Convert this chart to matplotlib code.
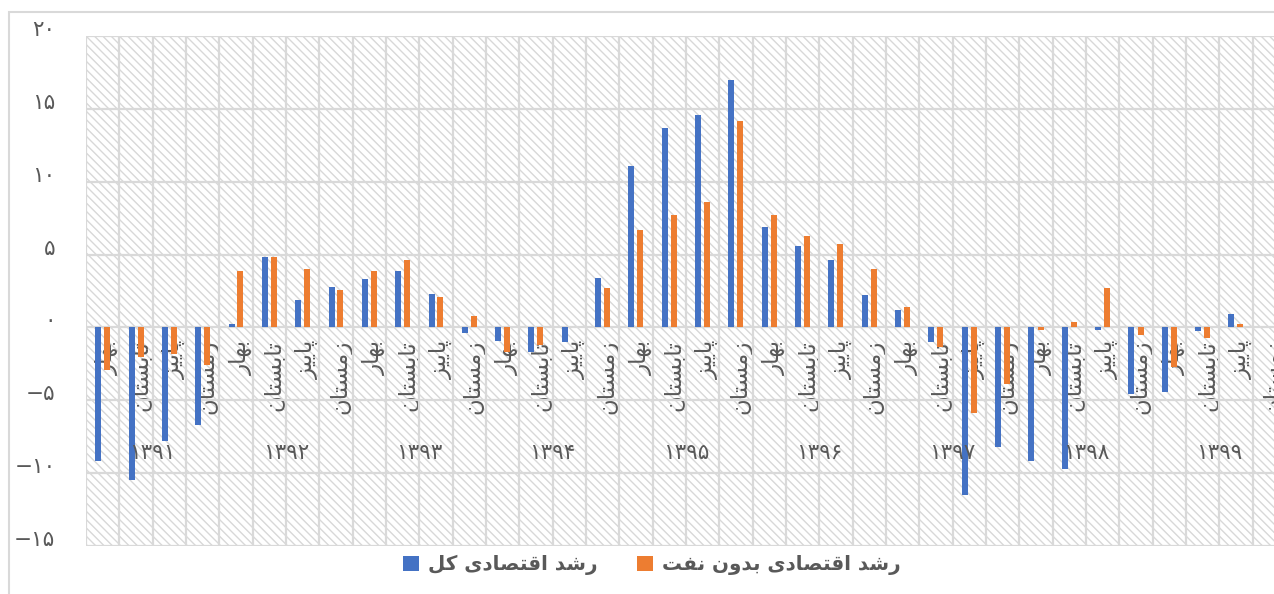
import numpy as np
import matplotlib
matplotlib.use("Agg")
import matplotlib.pyplot as plt
from matplotlib.patches import Rectangle
import matplotlib.transforms as mtransforms

# quarterly growth, 1391-1399 (last quarter of 1399 not available)
years = ['1391', '1392', '1393', '1394', '1395', '1396', '1397', '1398', '1399']
seasons = ['بهار', 'تابستان', 'پاییز', 'زمستان']
total_growth = [-9.2, -10.5, -7.8, -6.7,
                0.25, 4.8, 1.9, 2.8,
                3.3, 3.9, 2.3, -0.4,
                -0.9, -1.7, -1.0, 3.4,
                11.1, 13.7, 14.6, 17.0,
                6.9, 5.6, 4.6, 2.2,
                1.2, -1.0, -11.5, -8.2,
                -9.2, -9.7, -0.15, -4.6,
                -4.4, -0.25, 0.9, np.nan]
nonoil_growth = [-2.9, -2.0, -1.8, -2.6,
                 3.9, 4.8, 4.0, 2.6,
                 3.9, 4.6, 2.1, 0.8,
                 -1.7, -1.2, 0.05, 2.7,
                 6.7, 7.7, 8.6, 14.2,
                 7.7, 6.3, 5.7, 4.0,
                 1.4, -1.35, -5.9, -3.9,
                 -0.15, 0.35, 2.7, -0.5,
                 -2.7, -0.7, 0.25, np.nan]
series_names = ['رشد اقتصادی کل', 'رشد اقتصادی بدون نفت']

# --- minimal arabic/persian shaping (matplotlib has no text shaping) ---
FORMS = {
    'ا': ('\uFE8D', '\uFE8E', None, None),
    'ب': ('\uFE8F', '\uFE90', '\uFE91', '\uFE92'),
    'ت': ('\uFE95', '\uFE96', '\uFE97', '\uFE98'),
    'د': ('\uFEA9', '\uFEAA', None, None),
    'ر': ('\uFEAD', '\uFEAE', None, None),
    'ز': ('\uFEAF', '\uFEB0', None, None),
    'س': ('\uFEB1', '\uFEB2', '\uFEB3', '\uFEB4'),
    'ش': ('\uFEB5', '\uFEB6', '\uFEB7', '\uFEB8'),
    'ص': ('\uFEB9', '\uFEBA', '\uFEBB', '\uFEBC'),
    'ف': ('\uFED1', '\uFED2', '\uFED3', '\uFED4'),
    'ق': ('\uFED5', '\uFED6', '\uFED7', '\uFED8'),
    'ل': ('\uFEDD', '\uFEDE', '\uFEDF', '\uFEE0'),
    'م': ('\uFEE1', '\uFEE2', '\uFEE3', '\uFEE4'),
    'ن': ('\uFEE5', '\uFEE6', '\uFEE7', '\uFEE8'),
    'ه': ('\uFEE9', '\uFEEA', '\uFEEB', '\uFEEC'),
    'و': ('\uFEED', '\uFEEE', None, None),
    'پ': ('\uFB56', '\uFB57', '\uFB58', '\uFB59'),
    'ک': ('\uFB8E', '\uFB8F', '\uFB90', '\uFB91'),
    'ی': ('\uFBFC', '\uFBFD', '\uFBFE', '\uFBFF'),
}


def shape(text):
    out = []
    for i, c in enumerate(text):
        if c not in FORMS:
            out.append(c)
            continue
        prev = text[i - 1] if i > 0 else ''
        nxt = text[i + 1] if i + 1 < len(text) else ''
        iso, fin, ini, med = FORMS[c]
        jp = prev in FORMS and FORMS[prev][2] is not None
        jn = nxt in FORMS and ini is not None
        if jp and jn:
            out.append(med)
        elif jp:
            out.append(fin)
        elif jn:
            out.append(ini)
        else:
            out.append(iso)
    return ''.join(reversed(out))


def fa_digits(s):
    return ''.join(chr(0x06F0 + int(ch)) if ch.isdigit() else ch for ch in str(s))


plt.rcParams['font.family'] = ['DejaVu Sans']
plt.rcParams['hatch.color'] = '#d8d8d8'
plt.rcParams['hatch.linewidth'] = 1.0
grey = '#595959'
grid_c = '#d9d9d9'

W, H = 1274, 594
fig = plt.figure(figsize=(W / 100, H / 100), dpi=100)
fig.patches.append(Rectangle((8.5 / W, -0.1), 1.2, (H - 12) / H + 0.1, transform=fig.transFigure,
                             fill=False, edgecolor=grid_c, lw=1.5))

ax = fig.add_axes([86 / W, 48 / H, 1200 / W, 510 / H])
ax.add_patch(Rectangle((0, 0), 1, 1, transform=ax.transAxes, facecolor='white',
                       edgecolor='#d8d8d8', hatch='\\\\\\\\', lw=0, zorder=-1))

n = len(total_growth)
x = np.arange(n)
w = 0.18
b1 = ax.bar(x - 0.135, total_growth, w, color='#4472C4', zorder=2, label=shape(series_names[0]))
b2 = ax.bar(x + 0.135, nonoil_growth, w, color='#ED7D31', zorder=2, label=shape(series_names[1]))

ax.set_xlim(-0.5, n - 0.5)
ax.set_ylim(-15, 20)
yt = np.arange(-15, 21, 5)
ax.set_yticks(yt)
ax.set_yticklabels([fa_digits(v).replace('-', '\u2212') for v in yt])
ax.set_xticks(x)
ax.set_xticklabels([shape(s) for s in seasons] * len(years))
ax.set_xticks(np.arange(-0.5, n, 1), minor=True)
ax.grid(True, which='minor', axis='x', color=grid_c, lw=1.6, zorder=0.5)
ax.grid(True, which='major', axis='y', color=grid_c, lw=1.6, zorder=0.5)
ax.set_axisbelow(True)
for s in ['top', 'right', 'left']:
    ax.spines[s].set_visible(False)
ax.spines['bottom'].set_position(('data', 0))
ax.spines['bottom'].set_visible(False)
ax.tick_params(axis='x', which='both', length=0, pad=9, labelsize=16.5, labelcolor=grey,
               labelrotation=90)
ax.tick_params(axis='y', length=0, pad=22, labelsize=15.5, labelcolor=grey)
for t in ax.get_yticklabels():
    t.set_va('baseline')
shift = mtransforms.ScaledTranslation(5 / 100, 0, fig.dpi_scale_trans)
for t in ax.get_xticklabels():
    t.set_va('top')
    t.set_ha('center')
    t.set_transform(t.get_transform() + shift)

trans = mtransforms.blended_transform_factory(ax.transData, ax.transAxes)
for k, yr in enumerate(years):
    ax.text(4 * k + 1.5, 0.182, fa_digits(yr), transform=trans, ha='center', va='center',
            fontsize=15.5, color=grey)

fig.legend(handles=[b1, b2], loc='center', bbox_to_anchor=(652 / W, 29 / H), ncol=2,
           frameon=False, prop={'size': 14.3, 'weight': 'bold'}, labelcolor=grey,
           handlelength=0.8, handleheight=0.8, handletextpad=0.45, columnspacing=2.0)

fig.savefig('out.png', dpi=100)
